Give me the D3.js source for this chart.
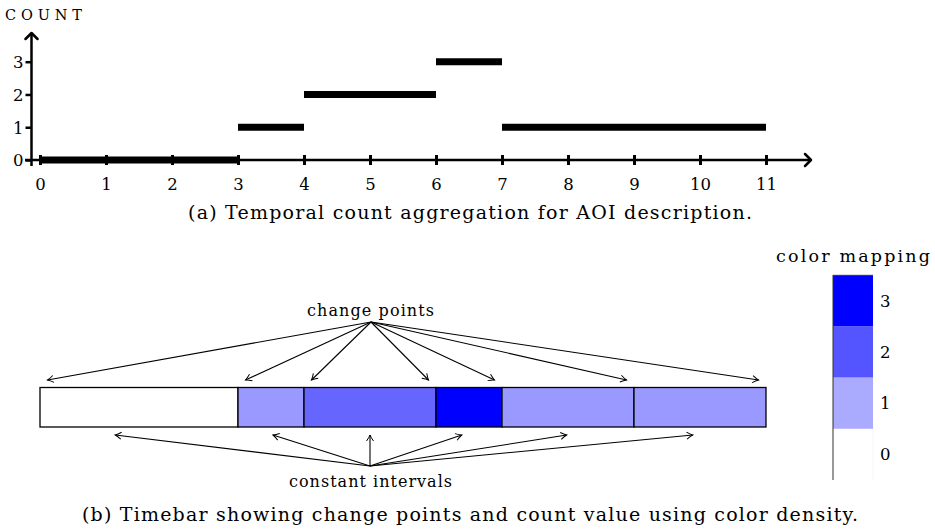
<!DOCTYPE html>
<html>
<head>
<meta charset="utf-8">
<script src="https://cdn.jsdelivr.net/npm/d3@7/dist/d3.min.js"></script>
<style>
  html, body { margin: 0; padding: 0; background: #fff; }
  svg { display: block; }
</style>
</head>
<body>
<svg id="chart" width="935" height="529"></svg>
<script>
// Count intervals: [start, end, count]
const intervalStart = [0, 3, 4, 6, 7];
const intervalEnd   = [3, 4, 6, 7, 11];
const intervalCount = [0, 1, 2, 3, 1];

const xTicks = [0, 1, 2, 3, 4, 5, 6, 7, 8, 9, 10, 11];
const yTicks = [0, 1, 2, 3];

// Timebar segments (change points split the time range)
const segStart = [0, 3, 4, 6, 7, 9];
const segEnd   = [3, 4, 6, 7, 9, 11];
const segCount = [0, 1, 2, 3, 1, 1];
const changePoints = [0, 3, 4, 6, 7, 9, 11];
// where the "constant intervals" arrows land on the time axis
const intervalPointers = [1.14, 3.53, 5, 6.39, 7.98, 9.89];

// colour ramps
const barColors = ["#ffffff", "#9999ff", "#6666ff", "#0000ff"];
const legendColors = ["#ffffff", "#aaaaff", "#5555ff", "#0000ff"];
const legendLevels = [0, 1, 2, 3];

const FONT = "DejaVu Serif";
const svg = d3.select("#chart");

// size a text run to fill a given width: grow the font up to maxSize,
// then make up any remaining gap with glyph spacing
function fitText(sel, width, maxSize) {
  const node = sel.node();
  sel.attr("font-family", FONT).attr("font-size", 10);
  const w10 = node.getComputedTextLength() || width / 2;
  const size = Math.min(maxSize, 10 * width / w10);
  sel.attr("font-size", size);
  if (node.getComputedTextLength() < width - 1) {
    sel.attr("textLength", width).attr("lengthAdjust", "spacing");
  }
  return sel;
}

const defs = svg.append("defs");
defs.append("marker")
  .attr("id", "openArrow")
  .attr("viewBox", "-8 -5 10 10")
  .attr("refX", 0).attr("refY", 0)
  .attr("markerUnits", "userSpaceOnUse")
  .attr("markerWidth", 10).attr("markerHeight", 10)
  .attr("orient", "auto")
  .append("path")
  .attr("d", "M-6,-3.5 Q-2.5,-1 0,0 Q-2.5,1 -6,3.5")
  .attr("fill", "none").attr("stroke", "#000").attr("stroke-width", 1);

defs.append("marker")
  .attr("id", "axisArrow")
  .attr("viewBox", "-10 -8 12 16")
  .attr("refX", 0).attr("refY", 0)
  .attr("markerUnits", "userSpaceOnUse")
  .attr("markerWidth", 12).attr("markerHeight", 16)
  .attr("orient", "auto")
  .append("path")
  .attr("d", "M-6,-6 L0,0 L-6,6")
  .attr("fill", "none").attr("stroke", "#000").attr("stroke-width", 2.5)
  .attr("stroke-linecap", "round").attr("stroke-linejoin", "round");

// ---------- (a) count aggregation ----------
const x = d3.scaleLinear().domain([0, 11]).range([40, 766]);
const y = d3.scaleLinear().domain([0, 3]).range([160, 61.7]);

const countPanel = svg.append("g");

// axes lines with arrows
countPanel.append("line")
  .attr("x1", 25).attr("x2", 811).attr("y1", y(0)).attr("y2", y(0))
  .attr("stroke", "#000").attr("stroke-width", 2.5)
  .attr("marker-end", "url(#axisArrow)");
countPanel.append("line")
  .attr("x1", 31.5).attr("x2", 31.5).attr("y1", 166).attr("y2", 33)
  .attr("stroke", "#000").attr("stroke-width", 2.5)
  .attr("marker-end", "url(#axisArrow)");

// x axis ticks and labels
const xAxis = d3.axisBottom(x).tickValues(xTicks).tickSize(0).tickPadding(0).tickFormat(d3.format("d"));
const gx = countPanel.append("g").attr("transform", `translate(0,${y(0)})`).call(xAxis);
gx.attr("font-family", FONT).attr("font-size", 16.5);
gx.select(".domain").remove();
gx.selectAll(".tick line").remove();
gx.selectAll(".tick").append("line")
  .attr("y1", -5).attr("y2", 5)
  .attr("stroke", "#000").attr("stroke-width", 3);
gx.selectAll(".tick text")
  .attr("y", 30).attr("dy", null)
  .attr("fill", "#000");

// y axis ticks and labels
const yAxis = d3.axisLeft(y).tickValues(yTicks).tickSize(0).tickPadding(0).tickFormat(d3.format("d"));
const gy = countPanel.append("g").attr("transform", "translate(31.5,0)").call(yAxis);
gy.attr("font-family", FONT).attr("font-size", 16.5);
gy.select(".domain").remove();
gy.selectAll(".tick line").remove();
gy.selectAll(".tick").append("line")
  .attr("x1", -6).attr("x2", 0)
  .attr("stroke", "#000").attr("stroke-width", 2.5);
gy.selectAll(".tick text")
  .attr("x", -8).attr("dy", "0.36em")
  .attr("fill", "#000");

fitText(countPanel.append("text")
  .attr("x", 5).attr("y", 20)
  .text("COUNT"), 77, 14.5);

// count bars
countPanel.append("g").selectAll("line")
  .data(intervalCount)
  .join("line")
  .attr("x1", (d, i) => x(intervalStart[i]))
  .attr("x2", (d, i) => x(intervalEnd[i]))
  .attr("y1", d => y(d)).attr("y2", d => y(d))
  .attr("stroke", "#000").attr("stroke-width", 7);

fitText(countPanel.append("text")
  .attr("x", 188).attr("y", 219)
  .text("(a) Temporal count aggregation for AOI description."), 564, 19);

// ---------- (b) timebar ----------
const barTop = 387.5, barBottom = 427;
const timebar = svg.append("g");

timebar.append("g").selectAll("rect")
  .data(segCount)
  .join("rect")
  .attr("x", (d, i) => x(segStart[i]))
  .attr("width", (d, i) => x(segEnd[i]) - x(segStart[i]))
  .attr("y", barTop).attr("height", barBottom - barTop)
  .attr("fill", d => barColors[d])
  .attr("stroke", "#000").attr("stroke-width", 1.3);

// change points annotation
const cpOrigin = [371, 322];
timebar.append("g").selectAll("line")
  .data(changePoints)
  .join("line")
  .attr("x1", cpOrigin[0]).attr("y1", cpOrigin[1])
  .attr("x2", d => x(d) + (x(d) < cpOrigin[0] ? 7.5 : -7.5))
  .attr("y2", barTop - 7.5)
  .attr("stroke", "#000").attr("stroke-width", 1.1)
  .attr("marker-end", "url(#openArrow)");

fitText(timebar.append("text")
  .attr("x", 307).attr("y", 316)
  .text("change points"), 127, 16);

// constant intervals annotation
const ciOrigin = [370, 466];
timebar.append("g").selectAll("line")
  .data(intervalPointers)
  .join("line")
  .attr("x1", ciOrigin[0]).attr("y1", ciOrigin[1])
  .attr("x2", d => x(d)).attr("y2", barBottom + 8)
  .attr("stroke", "#000").attr("stroke-width", 1.1)
  .attr("marker-end", "url(#openArrow)");

fitText(timebar.append("text")
  .attr("x", 289).attr("y", 487)
  .text("constant intervals"), 163, 16);

// colour mapping legend
const ly = d3.scaleLinear().domain([0, 4]).range([480, 275]);
const legend = svg.append("g");
legend.append("g").selectAll("rect")
  .data(legendLevels)
  .join("rect")
  .attr("x", 833).attr("width", 40)
  .attr("y", d => ly(d + 1)).attr("height", d => ly(d) - ly(d + 1))
  .attr("fill", d => legendColors[d]);
legend.append("line")
  .attr("x1", 833).attr("x2", 833).attr("y1", ly(4)).attr("y2", ly(0))
  .attr("stroke", "#333").attr("stroke-width", 1);
legend.append("line")
  .attr("x1", 833).attr("x2", 873).attr("y1", ly(4)).attr("y2", ly(4))
  .attr("stroke", "#888").attr("stroke-width", 0.6);
legend.append("line")
  .attr("x1", 873).attr("x2", 873).attr("y1", ly(1)).attr("y2", ly(0))
  .attr("stroke", "#eee").attr("stroke-width", 0.6);
legend.append("g").selectAll("text")
  .data(legendLevels)
  .join("text")
  .attr("x", 880)
  .attr("y", d => (ly(d) + ly(d + 1)) / 2)
  .attr("dy", "0.36em")
  .attr("font-family", FONT).attr("font-size", 16.5)
  .text(d => d);
fitText(legend.append("text")
  .attr("x", 776).attr("y", 262)
  .text("color mapping"), 154, 17.5);

fitText(svg.append("text")
  .attr("x", 82).attr("y", 521)
  .text("(b) Timebar showing change points and count value using color density."), 776, 19);
</script>
</body>
</html>
